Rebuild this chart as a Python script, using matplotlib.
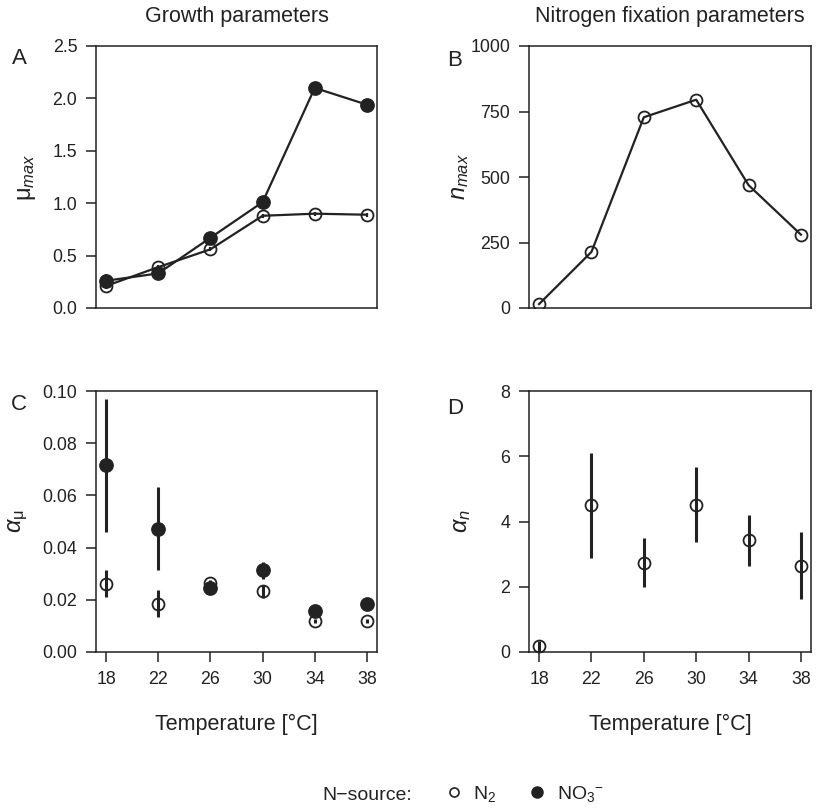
import matplotlib
matplotlib.use("Agg")
import matplotlib.pyplot as plt
from matplotlib.lines import Line2D

plt.rcParams["font.family"] = ["Liberation Sans", "DejaVu Sans"]
plt.rcParams["mathtext.fontset"] = "custom"
plt.rcParams["mathtext.rm"] = "Liberation Sans"
plt.rcParams["mathtext.it"] = "Liberation Sans:italic"
plt.rcParams["mathtext.cal"] = "Liberation Sans"

INK = "#222222"

temps = [18, 22, 26, 30, 34, 38]

# growth: maximum growth rate
mu_max_n2 = [0.21, 0.39, 0.56, 0.88, 0.90, 0.89]
mu_max_n2_err = [0.03, 0.02, 0.02, 0.02, 0.02, 0.02]
mu_max_no3 = [0.26, 0.33, 0.67, 1.01, 2.10, 1.94]
mu_max_no3_err = [0.06, 0.02, 0.02, 0.02, 0.01, 0.01]

# nitrogen fixation: maximum fixation rate (N2 only)
n_max = [15, 214, 728, 795, 469, 280]

# growth: initial slope
alpha_mu_n2 = [0.0262, 0.0185, 0.0266, 0.0234, 0.0119, 0.0119]
alpha_mu_n2_lo = [0.0211, 0.0134, 0.0255, 0.0205, 0.0112, 0.0112]
alpha_mu_n2_hi = [0.0313, 0.0237, 0.0277, 0.0256, 0.0126, 0.0126]
alpha_mu_no3 = [0.0716, 0.0472, 0.0247, 0.0313, 0.0156, 0.0183]
alpha_mu_no3_lo = [0.0460, 0.0313, 0.0240, 0.0281, 0.0150, 0.0177]
alpha_mu_no3_hi = [0.0968, 0.0633, 0.0254, 0.0345, 0.0162, 0.0189]

# nitrogen fixation: initial slope
alpha_n = [0.18, 4.50, 2.74, 4.51, 3.42, 2.64]
alpha_n_lo = [0.0, 2.88, 1.99, 3.37, 2.63, 1.61]
alpha_n_hi = [0.35, 6.09, 3.48, 5.67, 4.19, 3.67]

W, H = 817, 808
fig = plt.figure(figsize=(W / 100, H / 100), dpi=100)


def px_axes(left, top, right, bottom):
    return fig.add_axes([left / W, 1 - bottom / H, (right - left) / W, (bottom - top) / H])


def style(ax, ylim, yticks, ylabels, xticks=True):
    ax.set_xlim(17.23, 38.77)
    ax.set_ylim(*ylim)
    ax.set_yticks(yticks)
    ax.set_yticklabels(ylabels)
    for s in ax.spines.values():
        s.set_color(INK)
        s.set_linewidth(1.1)
    ax.tick_params(direction="out", length=7, width=1.1, color=INK,
                   labelsize=12.8, labelcolor=INK, pad=6.5)
    if xticks:
        ax.set_xticks(temps)
    else:
        ax.set_xticks([])


def bars(vals, lo, hi):
    return [[v - l for v, l in zip(vals, lo)], [h - v for v, h in zip(vals, hi)]]


open_kw = dict(marker="o", ms=8.6, mfc="none", mec=INK, mew=1.3)
fill_kw = dict(marker="o", ms=9.6, mfc=INK, mec=INK, mew=1.0)

# A: mu_max
axA = px_axes(96, 46, 377, 308)
axA.errorbar(temps, mu_max_n2, yerr=mu_max_n2_err, color=INK, lw=1.6,
             elinewidth=1.6, capsize=0, **open_kw)
axA.errorbar(temps, mu_max_no3, yerr=mu_max_no3_err, color=INK, lw=1.6,
             elinewidth=1.6, capsize=0, **fill_kw)
style(axA, (0, 2.5), [0, 0.5, 1.0, 1.5, 2.0, 2.5],
      ["0.0", "0.5", "1.0", "1.5", "2.0", "2.5"], xticks=False)
axA.set_ylabel(r"$\mathrm{\mu}_{max}$", fontsize=17, color=INK)
axA.yaxis.set_label_coords(-0.205, 0.5)
axA.set_title("Growth parameters", fontsize=15.5, color=INK, pad=17)

# B: n_max
axB = px_axes(529, 46, 811, 308)
axB.plot(temps, n_max, color=INK, lw=1.6, **open_kw)
style(axB, (0, 1000), [0, 250, 500, 750, 1000],
      ["0", "250", "500", "750", "1000"], xticks=False)
axB.set_ylabel(r"$n_{max}$", fontsize=17, color=INK)
axB.yaxis.set_label_coords(-0.205, 0.5)
axB.set_title("Nitrogen fixation parameters", fontsize=15.5, color=INK, pad=17)

# C: alpha_mu
axC = px_axes(96, 391, 377, 652)
axC.errorbar(temps, alpha_mu_no3, yerr=bars(alpha_mu_no3, alpha_mu_no3_lo, alpha_mu_no3_hi),
             ls="none", ecolor=INK, elinewidth=2.2, capsize=0, **fill_kw)
axC.errorbar(temps, alpha_mu_n2, yerr=bars(alpha_mu_n2, alpha_mu_n2_lo, alpha_mu_n2_hi),
             ls="none", ecolor=INK, elinewidth=2.2, capsize=0, **open_kw)
style(axC, (0, 0.10), [0, 0.02, 0.04, 0.06, 0.08, 0.10],
      ["0.00", "0.02", "0.04", "0.06", "0.08", "0.10"])
axC.set_ylabel(r"$\alpha_{\mathrm{\mu}}$", fontsize=17, color=INK)
axC.yaxis.set_label_coords(-0.235, 0.5)
axC.set_xlabel("Temperature [°C]", fontsize=15.5, color=INK, labelpad=19)

# D: alpha_n
axD = px_axes(529, 391, 811, 652)
axD.errorbar(temps, alpha_n, yerr=bars(alpha_n, alpha_n_lo, alpha_n_hi),
             ls="none", ecolor=INK, elinewidth=2.2, capsize=0, clip_on=False, **open_kw)
style(axD, (0, 8), [0, 2, 4, 6, 8], ["0", "2", "4", "6", "8"])
axD.set_ylabel(r"$\alpha_{n}$", fontsize=17, color=INK)
axD.yaxis.set_label_coords(-0.2, 0.5)
axD.set_xlabel("Temperature [°C]", fontsize=15.5, color=INK, labelpad=19)

# panel letters
for letter, x, y in [("A", 19, 59), ("B", 455, 60), ("C", 19, 405), ("D", 455, 408)]:
    fig.text(x / W, 1 - y / H, letter, fontsize=16, color=INK, ha="center", va="center")

# shared legend along the bottom
fig.text(367 / W, 1 - 795 / H, "N\u2212source:", fontsize=14, color=INK,
         ha="center", va="center")
handles = [
    Line2D([], [], ls="none", marker="o", ms=6.5, mfc="none", mec=INK, mew=1.2),
    Line2D([], [], ls="none", marker="o", ms=8, mfc=INK, mec=INK),
]
fig.legend(handles, [r"N$_2$", r"NO$_3{}^{-}$"], ncol=2, frameon=False,
           loc="center", bbox_to_anchor=(524 / W, 1 - 794 / H), fontsize=14,
           handlelength=1.0, handletextpad=0.5, columnspacing=1.6,
           labelcolor=INK)

fig.savefig("out.png", dpi=100)
